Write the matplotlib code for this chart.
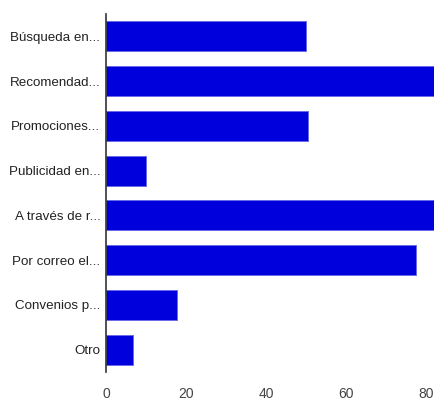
import matplotlib.pyplot as plt

plt.rcParams['font.family'] = ['Liberation Sans', 'DejaVu Sans']

# categorias y valores (las dos barras largas salen del recuadro)
categorias = ['Búsqueda en...', 'Recomendad...', 'Promociones...', 'Publicidad en...',
              'A través de r...', 'Por correo el...', 'Convenios p...', 'Otro']
valores = [50, 95, 50.5, 10, 92, 77.6, 17.8, 6.8]
ticks_x = [0, 20, 40, 60, 80]

fig = plt.figure(figsize=(4.35, 4.01), dpi=100)
ax = fig.add_axes([106 / 435, 1 - 372 / 401, 1 - 106 / 435, (372 - 14) / 401])

pos = list(range(len(categorias)))
ax.barh(pos, valores, height=0.67, color='#0000dc', edgecolor='#6a6ae8', linewidth=0.7)

ax.set_ylim(len(categorias) - 0.5, -0.5)
ax.set_xlim(0, 82.25)
ax.set_yticks(pos)
ax.set_yticklabels(categorias, fontsize=9.6, color='#222222')
ax.set_xticks(ticks_x)
ax.set_xticklabels([str(t) for t in ticks_x], fontsize=10, color='#444444')
ax.tick_params(axis='y', length=0, pad=4)
ax.tick_params(axis='x', length=0, pad=11)

for s in ['top', 'right', 'bottom']:
    ax.spines[s].set_visible(False)
ax.spines['left'].set_color('#333333')
ax.spines['left'].set_linewidth(1.2)

fig.savefig('out.png', dpi=100)
